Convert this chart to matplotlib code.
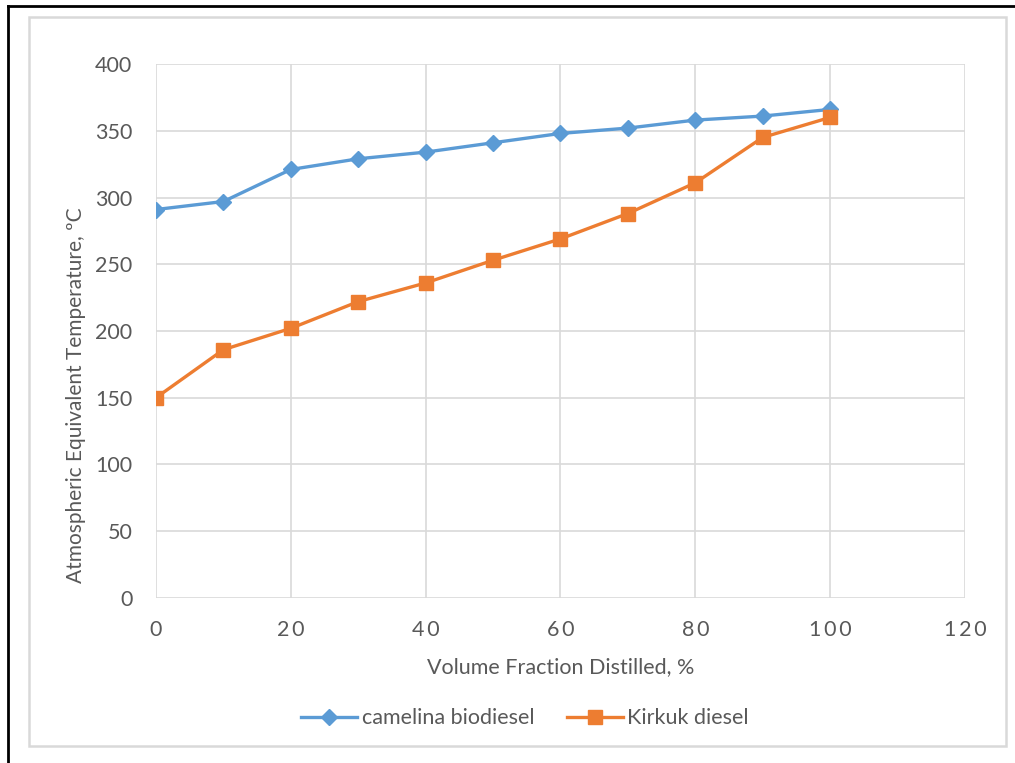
import matplotlib.pyplot as plt
from matplotlib.lines import Line2D
from matplotlib.patches import Rectangle

plt.rcParams['font.family'] = ['Lato', 'DejaVu Sans']

volume = [0, 10, 20, 30, 40, 50, 60, 70, 80, 90, 100]
camelina = [291, 297, 321, 329, 334, 341, 348, 352, 358, 361, 366]
kirkuk = [150, 186, 202, 222, 236, 253, 269, 288, 311, 345, 360]

xticks = [0, 20, 40, 60, 80, 100, 120]
yticks = [0, 50, 100, 150, 200, 250, 300, 350, 400]

text_c = "#595959"
grid_c = "#d9d9d9"
fs = 15.5

fig = plt.figure(figsize=(10.15, 7.63), dpi=100)
ax = fig.add_axes([0.1537, 0.2163, 0.797, 0.6998])

ax.plot(volume, camelina, color="#5b9bd5", lw=2.4, marker="D", ms=8.5,
        label="camelina biodiesel", zorder=3)
ax.plot(volume, kirkuk, color="#ed7d31", lw=2.4, marker="s", ms=10,
        label="Kirkuk diesel", zorder=3)

ax.set_xlim(0, 120)
ax.set_ylim(0, 400)
ax.set_xticks(xticks)
# Excel spreads the x tick digits a little
ax.set_xticklabels(["\u2009".join(str(v)) for v in xticks])
ax.set_yticks(yticks)
ax.grid(True, color=grid_c, lw=1.2)
ax.set_axisbelow(True)
for s in ax.spines.values():
    s.set_visible(False)
ax.tick_params(length=0, labelsize=fs, colors=text_c)
ax.tick_params(axis="x", pad=16)
ax.tick_params(axis="y", pad=17)

ax.set_xlabel("Volume Fraction Distilled, %", fontsize=fs, color=text_c)
ax.xaxis.set_label_coords(0.5, -0.11)
ax.set_ylabel("Atmospheric Equivalent Temperature, ºC", fontsize=15, color=text_c)
ax.yaxis.set_label_coords(-0.086, 0.38)

ax.legend(loc="center", bbox_to_anchor=(0.456, -0.225), ncol=2, frameon=False,
          fontsize=fs, labelcolor=text_c, handlelength=2.6, columnspacing=1.5,
          handletextpad=0.2)

# chart area border and outer frame
fig.add_artist(Rectangle((29 / 1015, 1 - 746 / 763), (1006 - 29) / 1015, (746 - 17) / 763,
                         transform=fig.transFigure, fill=False, ec=grid_c, lw=1.8))
fig.add_artist(Line2D([8 / 1015, 8 / 1015], [0, 1 - 6 / 763], transform=fig.transFigure,
                      color="black", lw=2))
fig.add_artist(Line2D([8 / 1015, 1], [1 - 6 / 763, 1 - 6 / 763], transform=fig.transFigure,
                      color="black", lw=2))

plt.savefig("out.png", dpi=100)
